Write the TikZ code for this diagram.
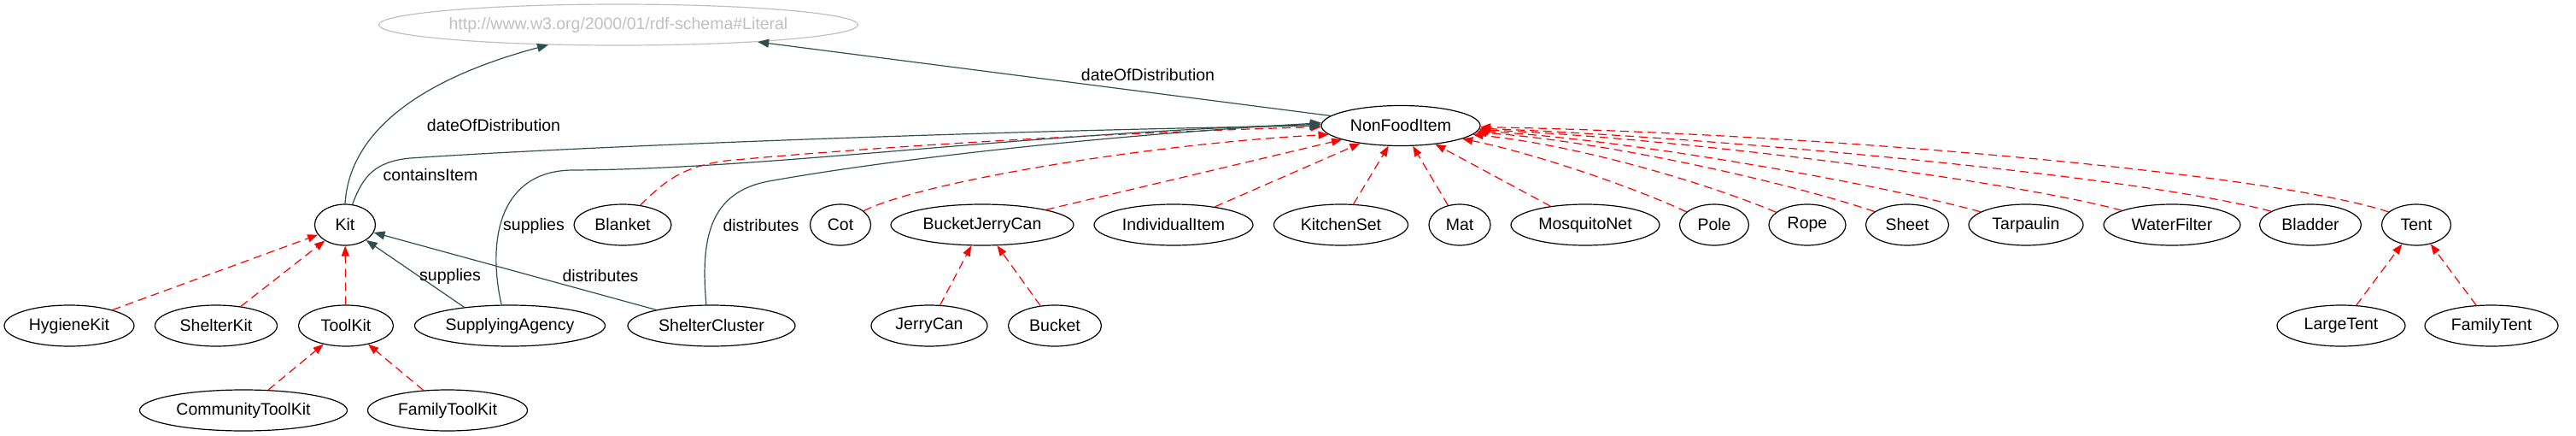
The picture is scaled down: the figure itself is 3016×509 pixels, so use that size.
\documentclass[tikz,border=0pt]{standalone}
\usepackage{fontspec}
\setmainfont{Liberation Sans}
\usepackage{xcolor}
\usepackage{tikz}
\usetikzlibrary{arrows.meta,shapes.geometric,positioning}
\definecolor{kante}{HTML}{2F4F4F}
\definecolor{literalgrau}{HTML}{C0C0C0}

\begin{document}
\begin{tikzpicture}[x=0.5pt,y=-0.5pt,
  klasse/.style={draw=black,line width=0.6pt,ellipse,inner sep=0pt,minimum height=24pt,font=\fontsize{9.75}{11}\selectfont},
  eigenschaft/.style={draw=kante,line width=0.6pt,-{Triangle[length=6.5pt,width=5pt,fill=kante]}},
  unterklasse/.style={draw=red,line width=0.6pt,dash pattern=on 5pt off 3pt,-{Triangle[length=6pt,width=4.5pt,fill=red]}},
  beschriftung/.style={font=\fontsize{9.75}{11}\selectfont,inner sep=0pt}]
\useasboundingbox (0,0) rectangle (3016,509);
%Pixelkoordinaten: x nach rechts, y nach unten, 1px = 0.5pt
\node[klasse,draw=literalgrau,text=literalgrau,minimum width=280pt] (Literal) at (724,29) {http://www.w3.org/2000/01/rdf-schema\#Literal};
\node[klasse,minimum width=93pt,minimum height=23.5pt] (NonFoodItem) at (1640,147) {NonFoodItem};
%Reihe unter NonFoodItem
\foreach \n/\x/\w in {Kit/404/71,Blanket/729/114,Cot/984/71,BucketJerryCan/1150/214,IndividualItem/1374/186,KitchenSet/1570/157,Mat/1709/72,MosquitoNet/1856/174,Pole/2007/81,Rope/2116/90,Sheet/2233/97,Tarpaulin/2372/134,WaterFilter/2543/160,Bladder/2705/119,Tent/2829/81}{
  \pgfmathsetmacro\breite{\w/2}
  \node[klasse,minimum width=\breite pt] (\n) at (\x,263) {\n};
}
%Unterklassen und Akteure
\foreach \n/\x/\w in {HygieneKit/81/152,ShelterKit/253/143,ToolKit/405/111,SupplyingAgency/597/223,ShelterCluster/833/196,JerryCan/1088/136,Bucket/1235/109,LargeTent/2741/150,FamilyTent/2917/156}{
  \pgfmathsetmacro\breite{\w/2}
  \node[klasse,minimum width=\breite pt] (\n) at (\x,381) {\n};
}
\foreach \n/\x/\w in {CommunityToolKit/285/243,FamilyToolKit/524/187}{
  \pgfmathsetmacro\breite{\w/2}
  \node[klasse,minimum width=\breite pt] (\n) at (\x,480) {\n};
}
%gerade Unterklassen-Kanten
\foreach \u/\o in {HygieneKit/Kit,ShelterKit/Kit,ToolKit/Kit,CommunityToolKit/ToolKit,FamilyToolKit/ToolKit,JerryCan/BucketJerryCan,Bucket/BucketJerryCan,LargeTent/Tent,FamilyTent/Tent,BucketJerryCan/NonFoodItem,IndividualItem/NonFoodItem,KitchenSet/NonFoodItem,Mat/NonFoodItem,MosquitoNet/NonFoodItem}{
  \draw[unterklasse] (\u) -- (\o);
}
%gebogene Unterklassen-Kanten von rechts
\foreach \n/\a/\px/\py/\qx/\qy/\z in {Pole/155/1920/222/1800/180/-12,Rope/158/2000/215/1850/170/-7,Sheet/158/2100/215/1880/165/-5,Tarpaulin/164/2200/215/1900/162/-4,WaterFilter/164/2350/210/1950/160/-3,Bladder/161/2500/205/2000/160/-2,Tent/155/2650/200/2100/155/-1}{
  \draw[unterklasse] (\n.\a) .. controls (\px,\py) and (\qx,\qy) .. (NonFoodItem.\z);
}
\draw[unterklasse] (Cot.31) .. controls (1080,212) and (1350,168) .. (NonFoodItem.-173);
\draw[unterklasse] (Blanket.48) .. controls (780,210) and (800,195) .. (850,188) .. controls (1100,165) and (1400,152) .. (NonFoodItem.-179);
%Eigenschaften
\draw[eigenschaft] (Kit.north) .. controls (410,140) and (520,85) .. (Literal.196);
\draw[eigenschaft] (NonFoodItem.172) -- (Literal.-7);
\draw[eigenschaft] (Kit.70) .. controls (425,205) and (440,189) .. (480,185) .. controls (700,170) and (1200,152) .. (NonFoodItem.west);
\draw[eigenschaft] (SupplyingAgency.112) .. controls (570,280) and (585,200) .. (670,199) .. controls (900,198) and (1200,155) .. (NonFoodItem.179);
\draw[eigenschaft] (ShelterCluster.104) .. controls (820,280) and (830,225) .. (900,212) .. controls (1050,185) and (1300,158) .. (NonFoodItem.178);
\draw[eigenschaft] (SupplyingAgency.158) -- (Kit.-36);
\draw[eigenschaft] (ShelterCluster.164) -- (Kit.-15);
\node[beschriftung] (dod1) at (578,147) {dateOfDistribution};
\node[beschriftung] (dod2) at (1344,88) {dateOfDistribution};
\node[beschriftung] (ci) at (504,205) {containsItem};
\node[beschriftung] (sup1) at (625,264) {supplies};
\node[beschriftung] (dis1) at (891,264) {distributes};
\node[beschriftung] (sup2) at (527,323) {supplies};
\node[beschriftung] (dis2) at (703,323) {distributes};
\end{tikzpicture}
\end{document}
